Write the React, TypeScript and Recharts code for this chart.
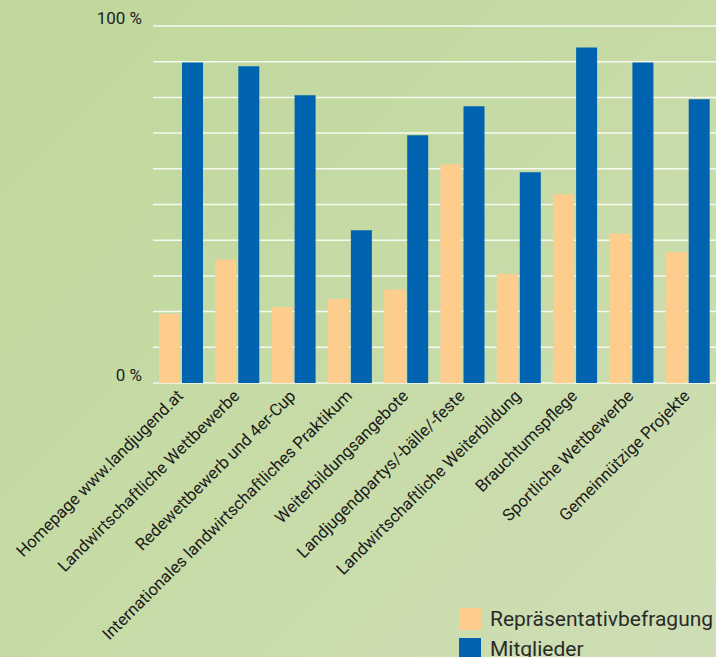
import { BarChart, Bar, XAxis, YAxis, CartesianGrid } from 'recharts'

const categories = [
  'Homepage www.landjugend.at',
  'Landwirtschaftliche Wettbewerbe',
  'Redewettbewerb und 4er-Cup',
  'Internationales landwirtschaftliches Praktikum',
  'Weiterbildungsangebote',
  'Landjugendpartys/-bälle/-feste',
  'Landwirtschaftliche Weiterbildung',
  'Brauchtumspflege',
  'Sportliche Wettbewerbe',
  'Gemeinnützige Projekte',
]

const repraesentativ = [19.3, 34.6, 21.3, 23.5, 26.2, 61.3, 30.5, 52.9, 41.8, 36.7]
const mitglieder = [89.8, 88.7, 80.6, 42.8, 69.4, 77.5, 59, 94, 89.8, 79.5]

const yTicks = [0, 10, 20, 30, 40, 50, 60, 70, 80, 90, 100]
const yLabels: Record<number, string> = { 0: '0 %', 100: '100 %' }

const seriesNames = ['Repräsentativbefragung', 'Mitglieder']
const colors = ['#fccd8d', '#0063b0']

const FONT = 'Roboto, "DejaVu Sans", sans-serif'

const data = categories.map((name, i) => ({
  name,
  rep: repraesentativ[i],
  mit: mitglieder[i],
}))

function YTick({ x, y, payload }: any) {
  const label = yLabels[payload.value]
  if (!label) return null
  return (
    <text x={x} y={y - 6} textAnchor="end" dominantBaseline="middle" fill="#222" fontSize={17} fontFamily={FONT}>
      {label}
    </text>
  )
}

function XTick({ x, y, payload }: any) {
  const ax = x + 3
  const ay = y + 6
  return (
    <text
      x={ax}
      y={ay}
      transform={`rotate(-45 ${ax} ${ay})`}
      textAnchor="end"
      fill="#1a1a1a"
      fontSize={16.7}
      fontFamily={FONT}
    >
      {payload.value}
    </text>
  )
}

export default function App() {
  return (
    <div
      style={{
        position: 'absolute',
        left: 0,
        top: 0,
        width: 716,
        height: 657,
        background: 'linear-gradient(135deg, #bfd79b 0%, #c6dba6 50%, #cfdeb5 100%)',
        overflow: 'hidden',
      }}
    >
      <BarChart
        width={716}
        height={657}
        data={data}
        margin={{ top: 26, right: 0, left: 0, bottom: 0 }}
        barSize={21}
        barGap={2}
      >
        <CartesianGrid horizontal vertical={false} stroke="#ffffff" strokeOpacity={0.85} strokeWidth={1.5} />
        <YAxis
          domain={[0, 100]}
          ticks={yTicks}
          width={153}
          axisLine={false}
          tickLine={false}
          tickMargin={5}
          tick={<YTick />}
          interval={0}
        />
        <XAxis
          dataKey="name"
          height={274}
          axisLine={false}
          tickLine={false}
          interval={0}
          tick={<XTick />}
        />
        <Bar dataKey="rep" name={seriesNames[0]} fill={colors[0]} isAnimationActive={false} />
        <Bar dataKey="mit" name={seriesNames[1]} fill={colors[1]} isAnimationActive={false} />
      </BarChart>
      <div style={{ position: 'absolute', left: 459, top: 604, fontFamily: FONT, color: '#2a2a2a' }}>
        {seriesNames.map((n, i) => (
          <div key={n} style={{ display: 'flex', alignItems: 'center', height: 30 }}>
            <span style={{ width: 22, height: 22, background: colors[i], display: 'inline-block', marginRight: 9 }} />
            <span style={{ fontSize: 21, lineHeight: '22px' }}>{n}</span>
          </div>
        ))}
      </div>
    </div>
  )
}
